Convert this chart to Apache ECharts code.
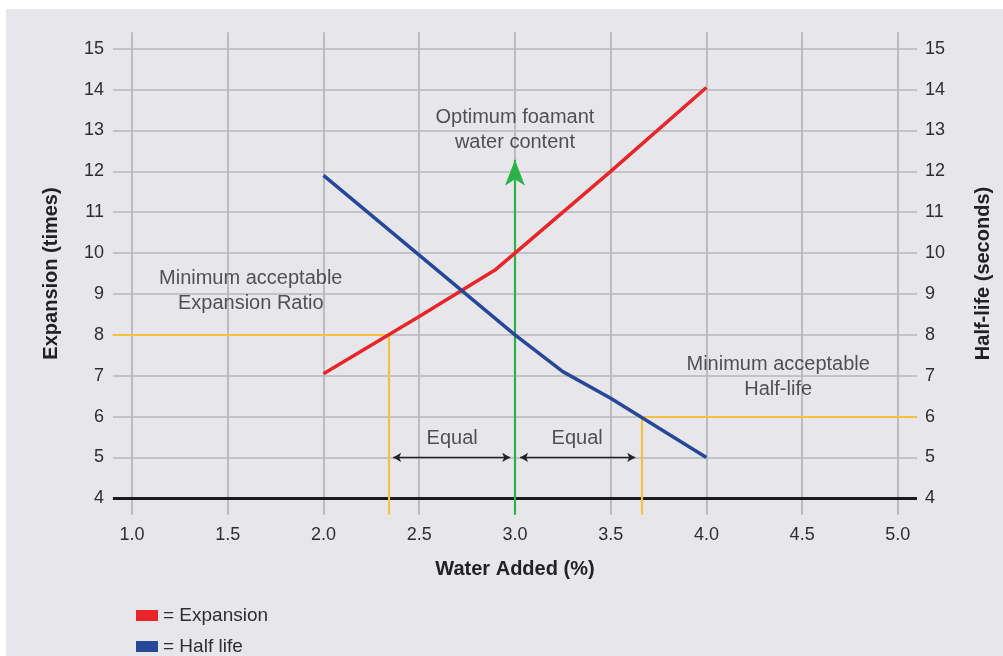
<!DOCTYPE html>
<html>
<head>
<meta charset="utf-8">
<script src="https://cdn.jsdelivr.net/npm/echarts@6/dist/echarts.min.js"></script>
<style>
html,body{margin:0;padding:0;background:#ffffff;}
#c{position:absolute;left:6px;top:9px;width:997px;height:647px;}
</style>
</head>
<body>
<div id="c"></div>
<script>
// ---- data ----
const xTicks = [1.0, 1.5, 2.0, 2.5, 3.0, 3.5, 4.0, 4.5, 5.0];
const yTicks = [4, 5, 6, 7, 8, 9, 10, 11, 12, 13, 14, 15];
const waterAdded = [2.0, 2.5, 2.9, 3.0, 3.5, 4.0];
const expansion = [7.05, 8.45, 9.6, 10.0, 12.0, 14.05];
const waterAddedHL = [2.0, 2.5, 3.0, 3.25, 3.5, 4.0];
const halfLife = [11.9, 9.95, 8.0, 7.1, 6.45, 5.0];
const minExpansion = 8;        // minimum acceptable expansion ratio
const minExpansionX = 2.343;   // water content where expansion hits 8
const minHalfLife = 6;         // minimum acceptable half-life
const minHalfLifeX = 3.663;    // water content where half-life hits 6
const optimumX = 3.0;          // optimum water content
const optimumArrowTop = 12.28;
const equalY = 5;
const equalSpans = [[2.364, 2.975], [3.027, 3.628]];
const notes = [
  {x: 3.0, y: 13.0, text: 'Optimum foamant\nwater content'},
  {x: 1.62, y: 9.07, text: 'Minimum acceptable\nExpansion Ratio'},
  {x: 4.375, y: 6.96, text: 'Minimum acceptable\nHalf-life'},
  {x: 2.672, y: 5.475, text: 'Equal'},
  {x: 3.325, y: 5.475, text: 'Equal'}
];
const xMin = 0.9, xMax = 5.1, yMin = 3.6, yMax = 15.4;

const FONT = '"Liberation Sans", Arial, Helvetica, sans-serif';
const chart = echarts.init(document.getElementById('c'));

function yAxisBase(pos) {
  return {
    type: 'value', position: pos, min: yMin, max: yMax,
    axisLine: {show: false},
    axisTick: {show: false, customValues: yTicks},
    axisLabel: {customValues: yTicks, color: '#2e2e2e', fontSize: 18, fontFamily: FONT, margin: pos === 'left' ? 9 : 8},
    nameLocation: 'middle', nameRotate: 90,
    nameTextStyle: {color: '#222', fontSize: 20, fontWeight: 'bold', fontFamily: FONT}
  };
}
const yLeft = yAxisBase('left');
yLeft.name = 'Expansion (times)';
yLeft.nameGap = 51;
yLeft.splitLine = {show: true, lineStyle: {color: '#b7b7bb', width: 1.6}};
const yRight = yAxisBase('right');
yRight.name = 'Half-life (seconds)';
yRight.nameGap = 56;
yRight.splitLine = {show: false};

const option = {
  backgroundColor: '#e7e7eb',
  animation: false,
  grid: {left: 106.9, right: 86, top: 23.35, bottom: 141.35},
  legend: {
    data: ['Expansion', 'Half life'],
    orient: 'vertical', left: 125, top: 592, height: 90,
    icon: 'rect', itemWidth: 22, itemHeight: 11, itemGap: 12,
    formatter: n => '= ' + n,
    textStyle: {color: '#2e2e2e', fontSize: 19, fontFamily: FONT}
  },
  xAxis: {
    type: 'value', min: xMin, max: xMax,
    axisLine: {show: false},
    axisTick: {show: false, customValues: xTicks},
    axisLabel: {customValues: xTicks, formatter: v => v.toFixed(1), color: '#2e2e2e', fontSize: 18, fontFamily: FONT, margin: 11},
    splitLine: {show: true, lineStyle: {color: '#b7b7bb', width: 1.8}},
    name: 'Water Added (%)', nameLocation: 'middle', nameGap: 45,
    nameTextStyle: {color: '#222', fontSize: 20, fontWeight: 'bold', fontFamily: FONT}
  },
  yAxis: [yLeft, yRight],
  series: [
    {
      name: 'baseline', type: 'line', data: [], silent: true, z: 3,
      markLine: {
        silent: true, symbol: ['none', 'none'], label: {show: false}, animation: false,
        lineStyle: {type: 'solid'},
        data: [
          [{coord: [xMin, 4], lineStyle: {color: '#1c1c1c', width: 3}}, {coord: [xMax, 4]}],
          [{coord: [xMin, minExpansion], lineStyle: {color: '#f4c23f', width: 2.2}}, {coord: [minExpansionX, minExpansion]}],
          [{coord: [minExpansionX, minExpansion], lineStyle: {color: '#f4c23f', width: 2.2}}, {coord: [minExpansionX, yMin]}],
          [{coord: [minHalfLifeX, minHalfLife], lineStyle: {color: '#f4c23f', width: 2.2}}, {coord: [xMax, minHalfLife]}],
          [{coord: [minHalfLifeX, minHalfLife], lineStyle: {color: '#f4c23f', width: 2.2}}, {coord: [minHalfLifeX, yMin]}]
        ]
      }
    },
    {
      name: 'arrows', type: 'line', data: [], silent: true, z: 4,
      markLine: {
        silent: true, label: {show: false}, animation: false,
        data: [
          [{coord: [optimumX, yMin], symbol: 'none', lineStyle: {color: '#2db24a', width: 2.2, type: 'solid'}},
           {coord: [optimumX, optimumArrowTop], symbol: 'arrow', symbolSize: [15, 26]}]
        ].concat(equalSpans.map(s => [
          {coord: [s[0], equalY], symbol: 'arrow', symbolSize: [7, 8], lineStyle: {color: '#222', width: 1.4, type: 'solid'}},
          {coord: [s[1], equalY], symbol: 'arrow', symbolSize: [7, 8]}
        ]))
      }
    },
    {
      name: 'Expansion', type: 'line', z: 5,
      data: waterAdded.map((x, i) => [x, expansion[i]]),
      showSymbol: false, symbol: 'none',
      lineStyle: {color: '#e8262a', width: 3.5},
      itemStyle: {color: '#e8262a'}
    },
    {
      name: 'Half life', type: 'line', z: 5,
      data: waterAddedHL.map((x, i) => [x, halfLife[i]]),
      showSymbol: false, symbol: 'none',
      lineStyle: {color: '#27489a', width: 3.5},
      itemStyle: {color: '#27489a'}
    },
    {
      name: 'notes', type: 'scatter', z: 6, silent: true,
      symbolSize: 0,
      data: notes.map(n => ({value: [n.x, n.y], name: n.text})),
      label: {show: true, position: 'inside', formatter: p => p.name, color: '#2a2a2a', fontSize: 20, lineHeight: 25, fontFamily: FONT, align: 'center'},
      emphasis: {disabled: true}
    }
  ]
};
chart.setOption(option);
</script>
</body>
</html>
